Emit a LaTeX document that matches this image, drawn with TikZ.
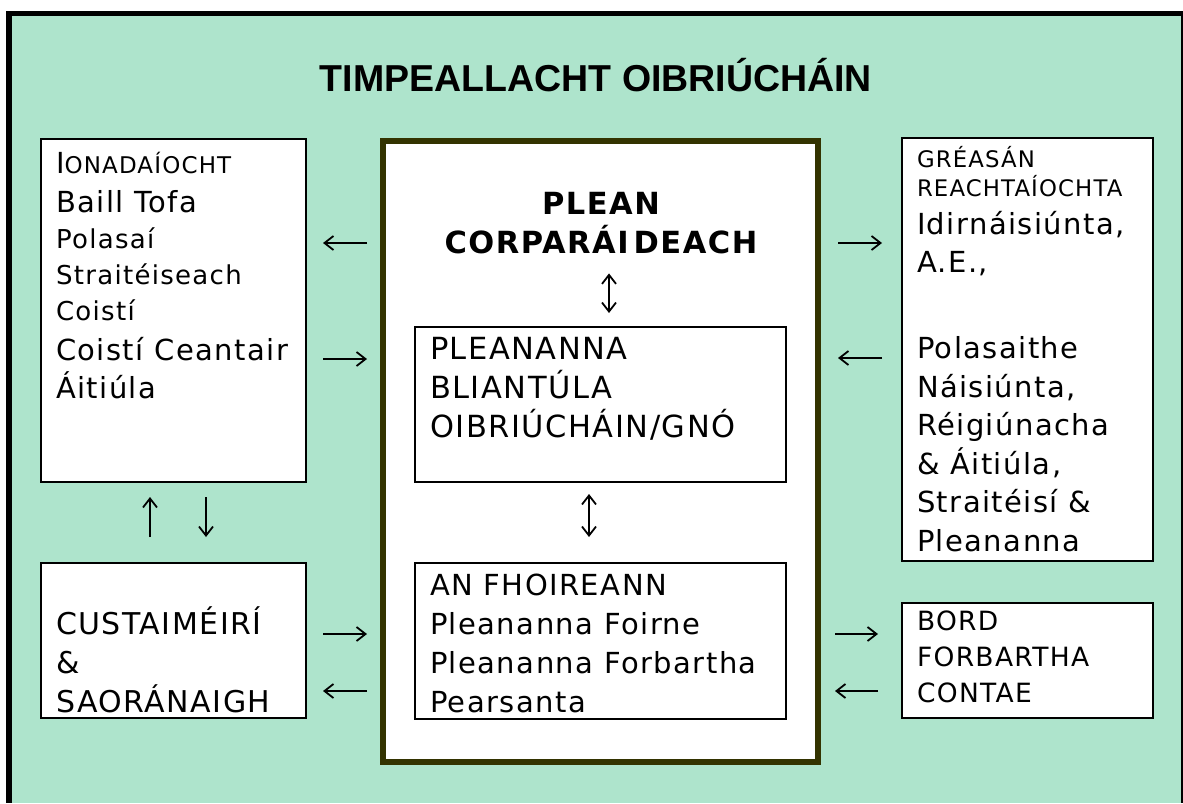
\documentclass[tikz,border=0pt]{standalone}
\usepackage{fontspec}
\setmainfont{DejaVu Sans}[LetterSpace=5]
\newfontfamily\titlefont{Liberation Sans}
\usetikzlibrary{arrows.meta,fit}
\definecolor{bgmint}{RGB}{174,228,204}
\definecolor{planedge}{RGB}{51,51,0}
\newcommand{\fsz}[2]{\fontsize{#1pt}{#2pt}\selectfont\spaceskip=.37em plus .1em minus .05em\relax}
\begin{document}
\begin{tikzpicture}[x=1pt,y=-1pt,
  box/.style={draw=black,line width=2.2pt,fill=white,inner sep=0pt,outer sep=0pt},
  bigbox/.style={draw=planedge,line width=6pt,fill=white,inner sep=0pt,outer sep=0pt},
  txt/.style={anchor=base west,inner sep=0pt,outer sep=0pt,align=left,text width=420pt},
  ctxt/.style={anchor=base,inner sep=0pt,outer sep=0pt,align=center,text width=420pt},
  tip/.tip={Straight Barb[length=9pt,width=14pt]},
  arr/.style={line width=1.8pt,-tip},
  darr/.style={line width=1.8pt,tip-tip}]
\useasboundingbox (0,0) rectangle (1183,803);
% background and frame
\fill[white] (0,0) rectangle (1183,803);
\fill[bgmint] (6,11) rectangle (1183,803);
\fill[black] (6,11) rectangle (1183,16);
\fill[black] (6,11) rectangle (12,803);
\draw[line width=1.2pt] (1182,11) -- (1182,803);
% title
\node[anchor=base,inner sep=0pt] (title) at (596,91)
  {\titlefont\bfseries\fontsize{37.5pt}{40pt}\selectfont TIMPEALLACHT OIBRIÚCHÁIN};
% boxes
\node[box,fit={(41,139) (306,482)}] (ion) {};
\node[box,fit={(41,563) (306,718)}] (cust) {};
\node[bigbox,fit={(383,141) (818,762)}] (plan) {};
\node[box,fit={(415,327) (786,482)}] (ann) {};
\node[box,fit={(415,563) (786,719)}] (staff) {};
\node[box,fit={(902,138) (1153,561)}] (net) {};
\node[box,fit={(902,603) (1153,718)}] (bord) {};
% texts
\node[txt] (iontext) at (56,173) {\fsz{29}{36}I{\fsz{23}{36}ONADAÍOCHT}\\[3pt]
  Baill Tofa\\
  \fsz{26}{36}Polasaí\\Straitéiseach\\Coistí\\[4pt]
  \fsz{29}{36}Coistí Ceantair\\[2pt]Áitiúla\par};
\node[txt] (custtext) at (56,634) {\fsz{30}{39}CUSTAIMÉIRÍ\\\&\\SAORÁNAIGH\par};
\node[ctxt] (phead) at (601,214) {\bfseries\fsz{30.5}{39}PLEAN\\CORPARÁI\kern5pt DEACH\par};
\node[txt] (anntext) at (430,359) {\fsz{30.5}{39}PLEANANNA\\BLIANTÚLA\\OIBRIÚCHÁIN/GNÓ\par};
\node[txt] (stafftext) at (430,595) {\fsz{29}{39}AN FHOIREANN\\Pleananna Foirne\\Pleananna Forbartha\\Pearsanta\par};
\node[txt] (nettext) at (917,167) {\fsz{22.8}{38.5}GRÉASÁN\\[-9.5pt]REACHTAÍOCHTA\\[-0.5pt]
  \fsz{29}{38.5}Idirnáisiúnta,\\A.E.,\\[47.5pt]Polasaithe\\Náisiúnta,\\Réigiúnacha\\\& Áitiúla,\\Straitéisí \&\\Pleananna\par};
\node[txt] (bordtext) at (917,630) {\fsz{26.5}{36}BORD\\FORBARTHA\\CONTAE\par};
% connectors, left side
\draw[arr,shorten <=16pt,shorten >=17pt] (plan.west |- 0,243) -- (ion.east |- 0,243);
\draw[arr,shorten <=17pt,shorten >=16pt] (ion.east |- 0,359) -- (plan.west |- 0,359);
\draw[arr,shorten <=26pt,shorten >=15pt] (cust.north -| 150,0) -- (ion.south -| 150,0);
\draw[arr,shorten <=15pt,shorten >=26pt] (ion.south -| 206,0) -- (cust.north -| 206,0);
\draw[arr,shorten <=17pt,shorten >=16pt] (cust.east |- 0,634) -- (plan.west |- 0,634);
\draw[arr,shorten <=16pt,shorten >=17pt] (plan.west |- 0,691) -- (cust.east |- 0,691);
% connectors, centre
\draw[darr,shorten <=20pt,shorten >=14pt] (phead.south -| 609,0) -- (ann.north -| 609,0);
\draw[darr,shorten <=12pt,shorten >=26pt] (ann.south -| 589,0) -- (staff.north -| 589,0);
% connectors, right side
\draw[arr,shorten <=20pt,shorten >=20pt] (plan.east |- 0,243) -- (net.west |- 0,243);
\draw[arr,shorten <=20pt,shorten >=20pt] (net.west |- 0,358) -- (plan.east |- 0,358);
\draw[arr,shorten <=17pt,shorten >=24pt] (plan.east |- 0,634) -- (bord.west |- 0,634);
\draw[arr,shorten <=24pt,shorten >=17pt] (bord.west |- 0,691) -- (plan.east |- 0,691);
\end{tikzpicture}
\end{document}
